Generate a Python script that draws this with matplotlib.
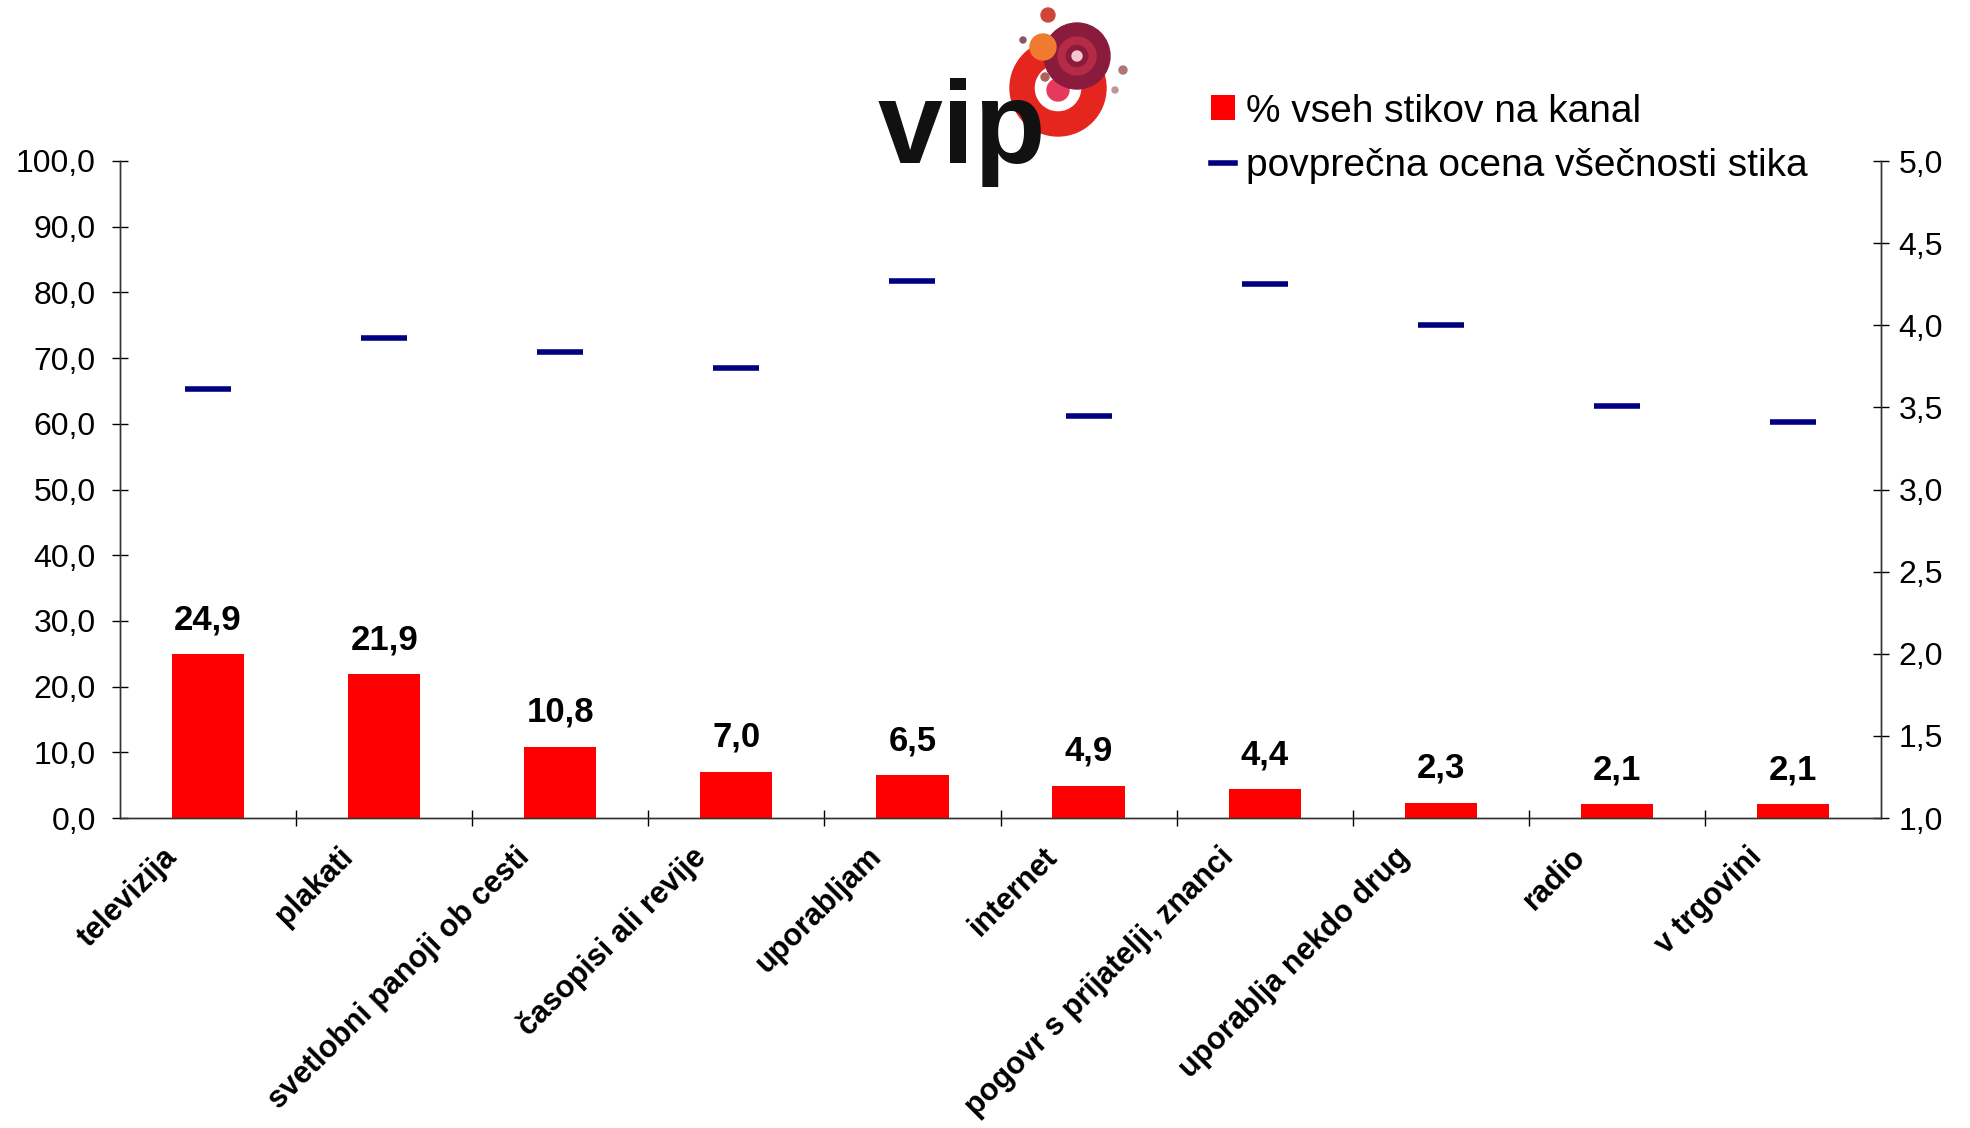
import matplotlib.pyplot as plt
from matplotlib.patches import Circle, Wedge, Patch
from matplotlib.lines import Line2D
from matplotlib.ticker import FuncFormatter, FixedLocator
from matplotlib.transforms import ScaledTranslation

plt.rcParams['font.family'] = ['Liberation Sans', 'DejaVu Sans']

# podatki
kanali = ['televizija', 'plakati', 'svetlobni panoji ob cesti', 'časopisi ali revije',
          'uporabljam', 'internet', 'pogovr s prijatelji, znanci', 'uporablja nekdo drug',
          'radio', 'v trgovini']
delez_stikov = [24.9, 21.9, 10.8, 7.0, 6.5, 4.9, 4.4, 2.3, 2.1, 2.1]
ocena_vsecnosti = [3.61, 3.92, 3.84, 3.74, 4.27, 3.45, 4.25, 4.00, 3.51, 3.41]

RDECA = '#FF0000'
MODRA = '#000080'


def vejica(v, pos=None):
    return f'{v:.1f}'.replace('.', ',')


fig = plt.figure(figsize=(19.7, 11.28), dpi=100)
ax = fig.add_axes([120 / 1970, 1 - 818 / 1128, (1881 - 120) / 1970, (818 - 161) / 1128])
ax2 = ax.twinx()

x = list(range(len(kanali)))
ax.bar(x, delez_stikov, width=0.41, color=RDECA, zorder=2)
for xi, v in zip(x, delez_stikov):
    ax.annotate(vejica(v), (xi, v), xytext=(0, 13), textcoords='offset points',
                ha='center', va='bottom', fontsize=25, fontweight='bold')

ax2.plot(x, ocena_vsecnosti, ls='none', marker='_', ms=33, mew=4, color=MODRA)

ax.set_xlim(-0.5, len(kanali) - 0.5)
ax.set_ylim(0, 100)
ax2.set_ylim(1, 5)

ax.set_yticks([i * 10 for i in range(11)])
ax2.set_yticks([1 + i * 0.5 for i in range(9)])
ax.yaxis.set_major_formatter(FuncFormatter(vejica))
ax2.yaxis.set_major_formatter(FuncFormatter(vejica))
ax.tick_params(axis='y', direction='inout', length=11, width=1, labelsize=23, pad=12)
ax2.tick_params(axis='y', direction='inout', length=11, width=1, labelsize=23, pad=7)

# oznake kanalov na sredini, kljukice na mejah
ax.set_xticks(x)
ax.set_xticklabels(kanali, rotation=45, ha='right', rotation_mode='anchor',
                   fontsize=22, fontweight='bold')
ax.xaxis.set_minor_locator(FixedLocator([i + 0.5 for i in range(len(kanali) - 1)]))
ax.tick_params(axis='x', which='major', length=0, pad=17)
ax.tick_params(axis='x', which='minor', direction='inout', length=12, width=1)
for lbl in ax.get_xticklabels():
    lbl.set_transform(lbl.get_transform() + ScaledTranslation(-0.46, 0, fig.dpi_scale_trans))

for a in (ax, ax2):
    a.spines['top'].set_visible(False)
    for s in ('left', 'right', 'bottom'):
        a.spines[s].set_color('#333333')
        a.spines[s].set_linewidth(1)

# legenda
roc = [Patch(facecolor=RDECA, edgecolor='none'),
       Line2D([], [], color=MODRA, lw=4)]
fig.legend(roc, ['% vseh stikov na kanal', 'povprečna ocena všečnosti stika'],
           loc='upper left', bbox_to_anchor=(1195 / 1970, 1 - 78 / 1128),
           frameon=False, fontsize=28, handlelength=0.62, handleheight=0.62,
           handletextpad=0.3, labelspacing=0.48, borderaxespad=0)

# logotip
logo = fig.add_axes([0, 0, 1, 1])
logo.set_xlim(0, 1970)
logo.set_ylim(1128, 0)
logo.set_axis_off()
logo.add_patch(Wedge((1058, 88), 48, 0, 360, width=24, color='#E5261F'))
logo.add_patch(Circle((1058, 90), 11, color='#E63A5C'))
logo.add_patch(Circle((1077, 56), 33, color='#8A1B3C'))
logo.add_patch(Wedge((1077, 56), 19, 0, 360, width=7, color='#B52A45'))
logo.add_patch(Circle((1077, 56), 5, color='#F4C8CC'))
logo.add_patch(Circle((1043, 47), 13, color='#F07A30'))
logo.add_patch(Circle((1048, 15), 7, color='#D0473A'))
logo.add_patch(Circle((1023, 40), 3, color='#8A5565'))
logo.add_patch(Circle((1045, 77), 4, color='#B0605A'))
logo.add_patch(Circle((1123, 70), 4, color='#B07575'))
logo.add_patch(Circle((1115, 90), 3, color='#C09595'))
logo.text(878, 163, 'vip', fontsize=84, fontweight='bold', color='#111111',
          ha='left', va='baseline')

fig.savefig('out.png', dpi=100)
